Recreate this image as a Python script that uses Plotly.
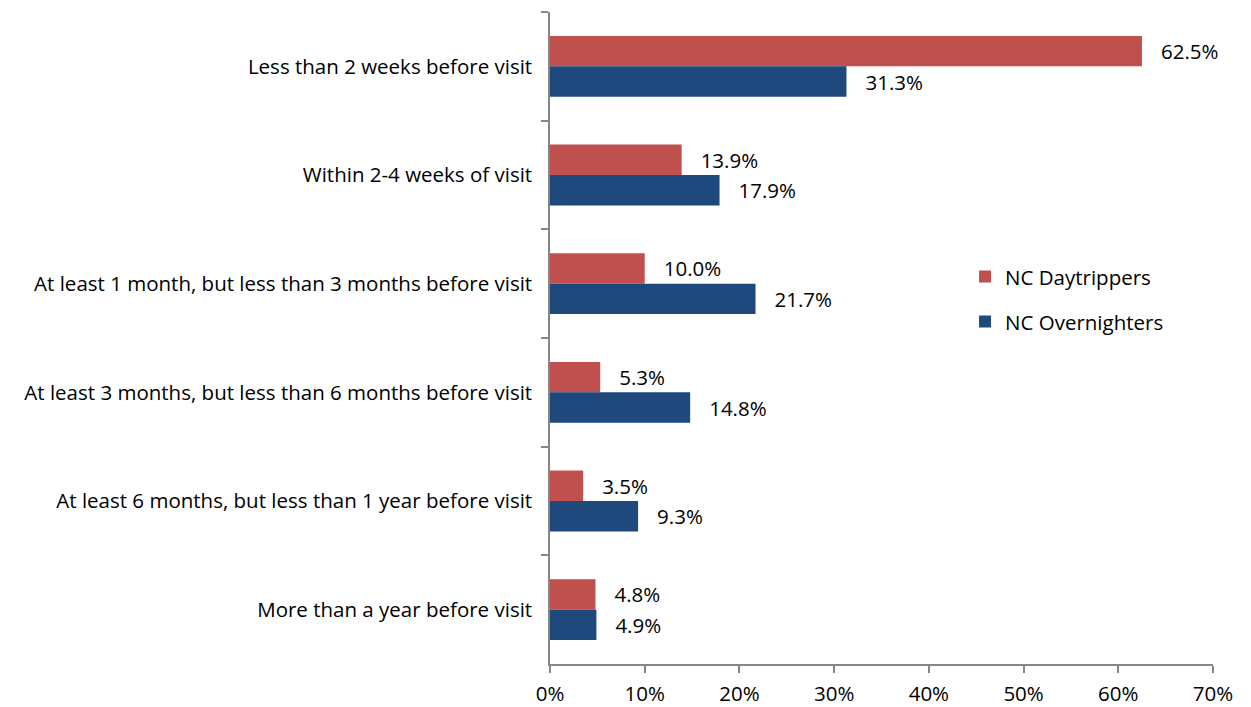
import plotly.graph_objects as go

categories = [
    "Less than 2 weeks before visit",
    "Within 2-4 weeks of visit",
    "At least 1 month, but less than 3 months before visit",
    "At least 3 months, but less than 6 months before visit",
    "At least 6 months, but less than 1 year before visit",
    "More than a year before visit",
]
daytrippers = [62.5, 13.9, 10.0, 5.3, 3.5, 4.8]
overnighters = [31.3, 17.9, 21.7, 14.8, 9.3, 4.9]
x_ticks = [0, 10, 20, 30, 40, 50, 60, 70]
x_tick_labels = ["0%", "10%", "20%", "30%", "40%", "50%", "60%", "70%"]

RED = "#C0504D"
BLUE = "#1F497D"
FONT = "Open Sans"
FS = 20.5

fig = go.Figure()
series = [("NC Daytrippers", daytrippers, RED, "legend"),
          ("NC Overnighters", overnighters, BLUE, "legend2")]
for name, vals, color, leg in series:
    fig.add_trace(go.Bar(
        y=categories, x=vals, name=name, orientation="h",
        marker=dict(color=color, line=dict(width=0)),
        text=["   " + f"{v:.1f}%" for v in vals],
        textposition="outside", cliponaxis=False,
        textfont=dict(family=FONT, size=FS, color="#000000"),
        legend=leg,
    ))

legend_common = dict(xanchor="left", yanchor="middle",
                     font=dict(family=FONT, size=FS, color="#000000"),
                     bgcolor="rgba(0,0,0,0)", borderwidth=0)

fig.update_layout(
    width=1251, height=707,
    margin=dict(l=550, r=38, t=12, b=43),
    paper_bgcolor="white", plot_bgcolor="white",
    barmode="group", bargap=0.44, bargroupgap=0,
    font=dict(family=FONT, size=FS, color="#000000"),
    showlegend=True,
    legend=dict(x=0.626, y=0.594, **legend_common),
    legend2=dict(x=0.626, y=0.525, **legend_common),
    xaxis=dict(range=[0, 70], tickvals=x_ticks, ticktext=x_tick_labels,
               showgrid=False, zeroline=False, showline=True,
               linecolor="#868686", linewidth=1.5, ticks="outside",
               ticklen=7, tickcolor="#868686", tickwidth=1.5,
               tickfont=dict(family=FONT, size=FS), ticklabelstandoff=4,
               automargin=False),
    yaxis=dict(autorange="reversed", showgrid=False, showline=True,
               linecolor="#868686", linewidth=1.5, ticks="outside",
               tickson="boundaries", ticklen=7, tickcolor="#868686",
               tickwidth=1.5, tickfont=dict(family=FONT, size=FS),
               ticklabelstandoff=12, automargin=False),
)

fig.write_html("out.html")
